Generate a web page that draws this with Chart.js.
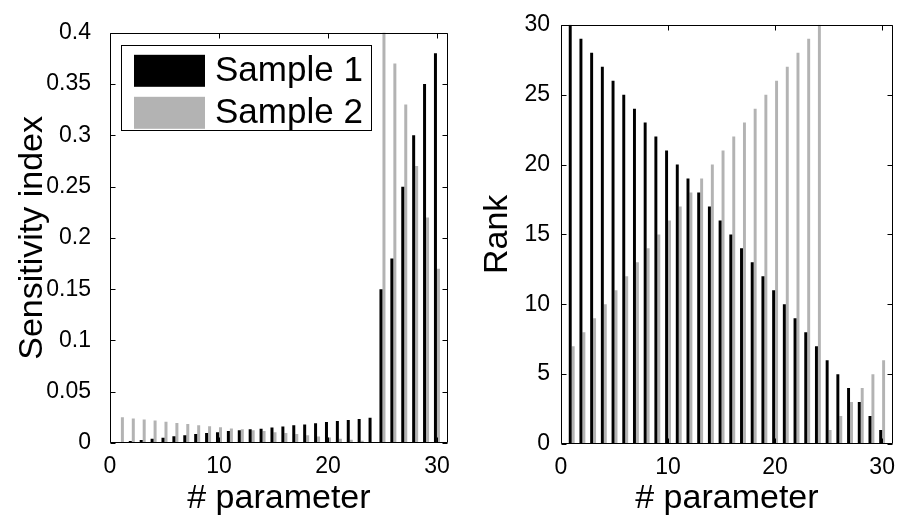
<!DOCTYPE html>
<html><head><meta charset="utf-8">
<script src="https://cdn.jsdelivr.net/npm/chart.js@4.4.0/dist/chart.umd.min.js"></script>
<style>
html,body{margin:0;padding:0;background:#fff;}
#wrap{position:relative;width:905px;height:520px;overflow:hidden;background:#fff;}
canvas{position:absolute;top:0;}
</style></head><body>
<div id="wrap">
<canvas id="c1" width="460" height="520" style="left:0px"></canvas>
<canvas id="c2" width="445" height="520" style="left:460px"></canvas>
</div>
<script>
// ---------- data ----------
const params = [1,2,3,4,5,6,7,8,9,10,11,12,13,14,15,16,17,18,19,20,21,22,23,24,25,26,27,28,29,30];
const seriesNames = ['Sample 1', 'Sample 2'];
const sens1 = [0.001,0.002,0.003,0.0042,0.0052,0.0066,0.0075,0.0087,0.0097,0.0106,0.0116,0.0125,0.0134,0.0139,0.0150,0.0162,0.0172,0.0181,0.0193,0.0204,0.0215,0.0225,0.0235,0.0246,0.15,0.18,0.25,0.30,0.35,0.38];
const sens2 = [0.025,0.0238,0.0229,0.0219,0.0207,0.0195,0.0185,0.0172,0.0163,0.0153,0.0142,0.0134,0.0125,0.0116,0.0106,0.0097,0.0088,0.0075,0.0063,0.0053,0.0042,0.0031,0.0022,0.001,0.42,0.37,0.33,0.27,0.22,0.17];
const rank1 = [30,29,28,27,26,25,24,23,22,21,20,19,18,17,16,15,14,13,12,11,10,9,8,7,6,5,4,3,2,1];
const rank2 = [7,8,9,10,11,12,13,14,15,16,17,18,19,20,21,22,23,24,25,26,27,28,29,30,1,2,3,4,5,6];
const xTicks = [0,10,20,30];
const xTickLabels = ['0','10','20','30'];
const sensTicks = [0,0.05,0.1,0.15,0.2,0.25,0.3,0.35,0.4];
const sensTickLabels = ['0','0.05','0.1','0.15','0.2','0.25','0.3','0.35','0.4'];
const rankTicks = [0,5,10,15,20,25,30];
const rankTickLabels = ['0','5','10','15','20','25','30'];
const xTitle = '# parameter';
const sensTitle = 'Sensitivity index';
const rankTitle = 'Rank';

// ---------- styles ----------
const FONT = '"Liberation Sans", Arial, Helvetica, sans-serif';
const COL1 = '#000000';
const COL2 = '#b3b3b3';

function pts(vals){ return params.map((p,i)=>({x:p, y:vals[i]})); }

const framePlugin = {
  id: 'frame',
  afterDatasetsDraw(chart, args, opts){
    const ctx = chart.ctx;
    const a = chart.chartArea;
    const xs = chart.scales.x, ys = chart.scales.y;
    const L = Math.round(a.left)+0.5, R = Math.round(a.right)-0.5, T = Math.round(a.top)+0.5, B = Math.round(a.bottom)-0.5;
    ctx.save();
    ctx.strokeStyle = '#000'; ctx.lineWidth = 1;
    ctx.beginPath();
    ctx.rect(L, T, R-L, B-T);
    const tl = 5;
    xs.ticks.forEach(t=>{
      const px = Math.round(xs.getPixelForValue(t.value))+0.5;
      ctx.moveTo(px, B); ctx.lineTo(px, B-tl);
      ctx.moveTo(px, T); ctx.lineTo(px, T+tl);
    });
    ys.ticks.forEach(t=>{
      const py = Math.round(ys.getPixelForValue(t.value))+0.5;
      ctx.moveTo(L, py); ctx.lineTo(L+tl, py);
      ctx.moveTo(R, py); ctx.lineTo(R-tl, py);
    });
    ctx.stroke();
    ctx.restore();
  }
};

const boxLegendPlugin = {
  id: 'boxLegend',
  afterDraw(chart, args, opts){
    if (!opts || !opts.show) return;
    const ctx = chart.ctx;
    const a = chart.chartArea;
    const bx = a.left + 11, by = a.top + 12, bw = 250, bh = 85;
    ctx.save();
    ctx.fillStyle = '#fff';
    ctx.fillRect(bx, by, bw, bh);
    ctx.strokeStyle = '#000'; ctx.lineWidth = 1;
    ctx.strokeRect(Math.round(bx)+0.5, Math.round(by)+0.5, bw, bh);
    const rows = [by + 26, by + 68];
    chart.data.datasets.forEach((ds, i)=>{
      ctx.fillStyle = ds.backgroundColor;
      ctx.fillRect(bx + 13, rows[i] - 16, 71, 32);
      ctx.fillStyle = '#000';
      ctx.font = '35px ' + FONT;
      ctx.textBaseline = 'middle';
      ctx.textAlign = 'left';
      ctx.fillText(ds.label, bx + 94, rows[i] + 1);
    });
    ctx.restore();
  }
};

function makeChart(id, d1, d2, yMax, yTicks, yTickLabels, yTitleText, yWidth, xHeight, padRight, yTickPad, yTitlePad, showLegend){
  return new Chart(document.getElementById(id), {
    type: 'bar',
    data: {
      datasets: [
        {label: seriesNames[0], data: pts(d1), backgroundColor: COL1, borderWidth: 0, categoryPercentage: 0.55, barPercentage: 1.0},
        {label: seriesNames[1], data: pts(d2), backgroundColor: COL2, borderWidth: 0, categoryPercentage: 0.55, barPercentage: 1.0}
      ]
    },
    options: {
      responsive: false,
      animation: false,
      devicePixelRatio: 1,
      layout: {padding: {left: 0, right: padRight, top: 17, bottom: 0}},
      plugins: {
        legend: {display: false},
        tooltip: {enabled: false},
        boxLegend: {show: showLegend}
      },
      scales: {
        x: {
          type: 'linear', min: 0, max: 31, offset: false,
          grid: {display: false, drawTicks: false},
          border: {display: false},
          afterBuildTicks(s){ s.ticks = xTicks.map(v=>({value:v})); },
          afterFit(s){ s.height = xHeight; },
          ticks: {
            color: '#000', padding: 10, maxRotation: 0, autoSkip: false,
            font: {family: FONT, size: 23},
            callback: (v)=> xTickLabels[xTicks.indexOf(v)]
          },
          title: {display: true, text: xTitle, color: '#000', font: {family: FONT, size: 34}, padding: {top: 0, bottom: 1}}
        },
        y: {
          type: 'linear', min: 0, max: yMax,
          grid: {display: false, drawTicks: false},
          border: {display: false},
          afterBuildTicks(s){ s.ticks = yTicks.map(v=>({value:v})); },
          afterFit(s){ s.width = yWidth; },
          ticks: {
            color: '#000', padding: yTickPad, autoSkip: false,
            font: {family: FONT, size: 23},
            callback: (v)=> yTickLabels[yTicks.indexOf(v)]
          },
          title: {display: true, text: yTitleText, color: '#000', font: {family: FONT, size: 34}, padding: {top: yTitlePad, bottom: 0}}
        }
      }
    },
    plugins: [framePlugin, boxLegendPlugin]
  });
}

makeChart('c1', sens1, sens2, 0.4, sensTicks, sensTickLabels, sensTitle, 110, 77, 8, 19, 12, true);
makeChart('c2', rank1, rank2, 30, rankTicks, rankTickLabels, rankTitle, 101, 76, 2, 11, 17, false);
</script>
</body></html>
